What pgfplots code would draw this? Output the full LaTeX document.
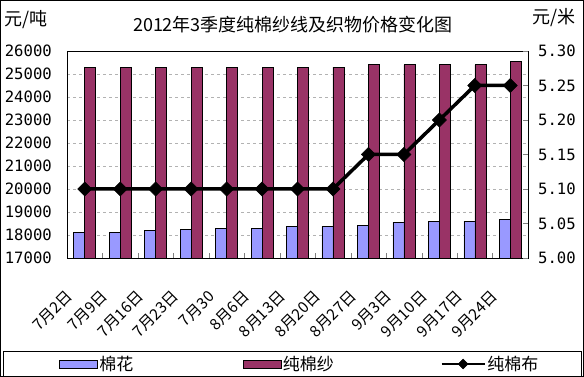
\documentclass[border=0pt]{standalone}
\usepackage{fontspec}
\setmainfont{Noto Sans CJK SC}
\newfontfamily\numfont{DejaVu Sans Mono}
\usepackage{pgfplots}
\pgfplotsset{compat=1.18}
\definecolor{cotton}{HTML}{9999FF}
\definecolor{yarn}{HTML}{993366}
\pgfplotsset{
  boxlegend/.style={legend image code/.code={\draw[#1] (0pt,-4pt) rectangle (38pt,4pt);}},
  linelegend/.style={legend image code/.code={\draw[#1, sharp plot, mark repeat=2, mark phase=2] plot coordinates {(0pt,0pt) (21.5pt,0pt) (43pt,0pt)};}},
}
\begin{document}
\begin{tikzpicture}[x=1pt,y=1pt]
\useasboundingbox (0,0) rectangle (584,377);
\draw[line width=0.8pt] (0.5,0.5) rectangle (583.5,376.5);
\draw[line width=0.8pt] (3,1) rectangle (581.5,26);
\node[font=\fontsize{18}{20}\selectfont] at (293,352) {2012年3季度纯棉纱线及织物价格变化图};
\node[font=\fontsize{18}{20}\selectfont, anchor=west, inner sep=0pt] at (4,357) {元/吨};
\node[font=\fontsize{18}{20}\selectfont, anchor=east, inner sep=0pt] at (576,359) {元/米};
\begin{axis}[
  at={(67pt,119pt)}, anchor=south west, scale only axis,
  width=461pt, height=207pt,
  xmin=-0.5, xmax=12.5, ymin=17000, ymax=26000,
  ybar=0pt, bar width=11pt,
  xtick={0,...,12},
  xticklabels={7月2日,7月9日,7月16日,7月23日,7月30,8月6日,8月13日,8月20日,8月27日,9月3日,9月10日,9月17日,9月24日},
  minor xtick={-0.5,0.5,...,12.5},
  major tick length=0pt, minor tick length=5pt,
  xtick pos=bottom, ytick pos=left, tick align=inside,
  ytick={17000,18000,...,26000},
  scaled y ticks=false,
  ymajorgrids, major grid style={dashed, gray!60, line width=0.6pt},
  /pgf/number format/assume math mode=true,
  /pgf/number format/1000 sep={},
  yticklabel style={font=\numfont\fontsize{15.6}{16}\selectfont, anchor=east, inner sep=0pt, xshift=-15pt},
  xticklabel style={font=\fontsize{15.5}{16}\selectfont, xshift=-20pt, yshift=-31pt, rotate=45, anchor=north east, inner sep=0pt},
  axis line style={line width=0.8pt},
  legend columns=3,
  legend style={at={(axis description cs:-0.01735,-0.5121)}, anchor=west, draw=none, fill=none,
    inner sep=0pt, font=\fontsize{17}{18}\selectfont, nodes={inner sep=1.5pt}},
]
\addplot[fill=cotton, draw=black, line width=0.6pt, boxlegend]
  coordinates {(0,18120) (1,18120) (2,18200) (3,18250) (4,18300) (5,18300) (6,18380)
               (7,18380) (8,18420) (9,18560) (10,18600) (11,18600) (12,18680)};
\addlegendentry{\makebox[142pt][l]{棉花}}
\addplot[fill=yarn, draw=black, line width=0.6pt, boxlegend]
  coordinates {(0,25300) (1,25300) (2,25300) (3,25300) (4,25300) (5,25300) (6,25300)
               (7,25300) (8,25400) (9,25400) (10,25400) (11,25400) (12,25550)};
\addlegendentry{\makebox[156pt][l]{纯棉纱}}
\addlegendimage{black, line width=2.5pt, mark=square*, mark size=3.5pt, mark options={rotate=45, line width=0.5pt}, linelegend}
\addlegendentry{纯棉布}
\end{axis}
\begin{axis}[
  at={(67pt,119pt)}, anchor=south west, scale only axis,
  width=461pt, height=207pt,
  xmin=-0.5, xmax=12.5, ymin=5, ymax=5.3,
  axis x line=none, axis y line*=right,
  ytick={5,5.05,5.1,5.15,5.2,5.25,5.3},
  tick align=inside, major tick length=5pt,
  axis line style={line width=0.8pt},
  /pgf/number format/assume math mode=true,
  yticklabel style={/pgf/number format/.cd, fixed, fixed zerofill, precision=2, /tikz/.cd,
    font=\numfont\fontsize{15.6}{16}\selectfont, anchor=west, inner sep=0pt, xshift=10pt},
]
\addplot[black, line width=3.5pt, mark=square*, mark size=5pt, mark options={rotate=45, line width=0.5pt}]
  coordinates {(0,5.10) (1,5.10) (2,5.10) (3,5.10) (4,5.10) (5,5.10) (6,5.10)
               (7,5.10) (8,5.15) (9,5.15) (10,5.20) (11,5.25) (12,5.25)};
\end{axis}
\end{tikzpicture}
\end{document}
